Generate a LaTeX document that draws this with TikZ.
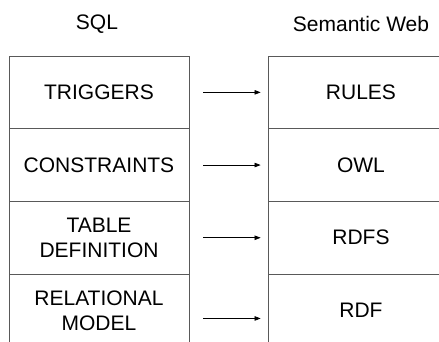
\documentclass[tikz,border=0pt]{standalone}
\usepackage{fontspec}
\setmainfont{Liberation Sans}
\usetikzlibrary{arrows.meta}
\begin{document}
\begin{tikzpicture}[x=1pt,y=-1pt,
    cell/.style={draw=black!65, line width=0.8pt, align=center, inner sep=0pt,
                 font=\fontsize{21}{25}\selectfont, minimum height=72.7pt},
    sqlcell/.style={cell, minimum width=180pt},
    webcell/.style={cell, minimum width=186pt},
    head/.style={font=\fontsize{21}{25}\selectfont},
    map/.style={-{Triangle[length=6pt,width=4.5pt]}, line width=0.7pt,
                shorten <=14pt, shorten >=7pt}]
    \useasboundingbox (0,0) rectangle (439,342);

    \node[head] (sql) at (97,24)  {SQL};
    \node[head] (web) at (361,24) {Semantic Web};

    \node[sqlcell] (trig) at (99,92.35)  {TRIGGERS};
    \node[sqlcell] (cons) at (99,165.05) {CONSTRAINTS};
    \node[sqlcell] (tab)  at (99,237.75) {TABLE\\DEFINITION};
    \node[sqlcell] (rel)  at (99,310.45) {RELATIONAL\\MODEL};

    \node[webcell] (rules) at (361,92.35)  {RULES};
    \node[webcell] (owl)   at (361,165.05) {OWL};
    \node[webcell] (rdfs)  at (361,237.75) {RDFS};
    \node[webcell] (rdf)   at (361,310.45) {RDF};

    \draw [map] (trig) -- (rules);
    \draw [map] (cons) -- (owl);
    \draw [map] (tab)  -- (rdfs);
    \draw [map] ([yshift=-8pt]rel.east) -- ([yshift=-8pt]rdf.west);
\end{tikzpicture}
\end{document}
